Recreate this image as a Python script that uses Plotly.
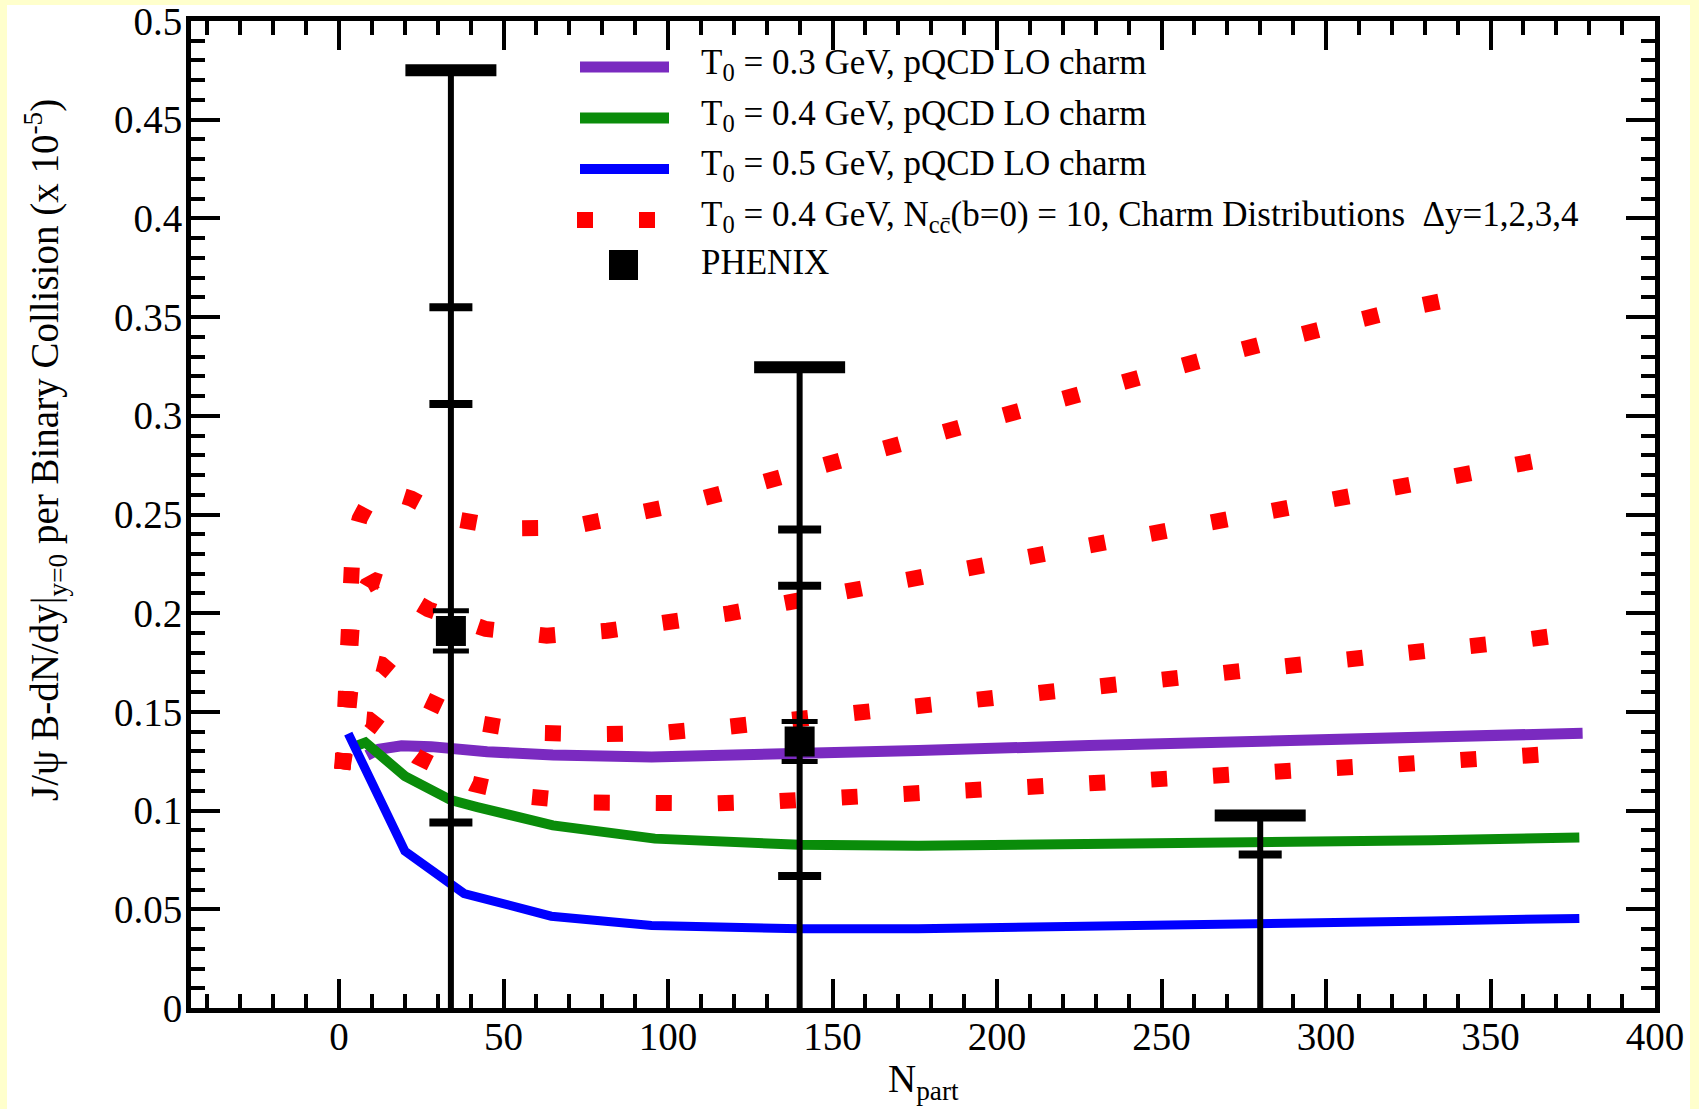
import plotly.graph_objects as go

# ---------------- data ----------------
# T0 = 0.3 GeV, pQCD LO charm
npart_t03 = [8.5, 12, 19, 28, 45, 65, 95, 136, 176, 228, 280, 332, 378]
jpsi_t03 = [0.128, 0.131, 0.1328, 0.1324, 0.1298, 0.1282, 0.1272, 0.1283, 0.1304, 0.133, 0.1355, 0.1375, 0.1392]

# T0 = 0.4 GeV, pQCD LO charm
npart_t04 = [4, 8, 20, 34, 42, 65, 96, 140, 176, 228, 280, 332, 377]
jpsi_t04 = [0.132, 0.1345, 0.1175, 0.1053, 0.1018, 0.0925, 0.0858, 0.0827, 0.0822, 0.0828, 0.0838, 0.085, 0.0864]

# T0 = 0.5 GeV, pQCD LO charm
npart_t05 = [2.8, 20, 38, 64.5, 95, 140, 176, 228, 280, 332, 377]
jpsi_t05 = [0.139, 0.0795, 0.0580, 0.0465, 0.0418, 0.0401, 0.0401, 0.0411, 0.0425, 0.0441, 0.0454]

# T0 = 0.4 GeV, Ncc(b=0)=10, charm distributions, dy = 1, 2, 3, 4
npart_dy1 = [1.0, 1.3, 1.8, 2.3, 3.0, 4.2, 6.3, 9.5, 15.4, 22, 32.7, 50.6, 69.2, 87.4, 105.7, 123.7,
             141.7, 159.4, 177.5, 195.4, 213.3, 231.2, 249.3, 267.4, 285.3, 302.9, 321.6, 342]
jpsi_dy1 = [0.121, 0.130, 0.157, 0.188, 0.215, 0.235, 0.248, 0.258, 0.2615, 0.258, 0.2485, 0.243, 0.2433,
            0.249, 0.256, 0.264, 0.2725, 0.2811, 0.2898, 0.2983, 0.3067, 0.3146, 0.3227, 0.3305, 0.3383,
            0.346, 0.3534, 0.3605]

npart_dy2 = [1.0, 1.4, 2.1, 3.0, 3.9, 6.0, 8.5, 11.2, 15, 20, 27.1, 44.6, 63.1, 81.5, 100.1, 118.6, 136.6,
             155.3, 173.8, 192.1, 210.3, 228.6, 247, 265.4, 283.6, 302, 320.6, 338.8, 357.1, 376]
jpsi_dy2 = [0.121, 0.135, 0.164, 0.183, 0.1945, 0.207, 0.214, 0.2165, 0.2145, 0.209, 0.202, 0.192, 0.1886,
            0.1911, 0.1948, 0.1999, 0.2055, 0.2113, 0.2173, 0.2235, 0.2294, 0.235, 0.2409, 0.2465, 0.2519,
            0.2573, 0.2625, 0.2682, 0.2741, 0.281]

npart_dy3 = [1.0, 1.5, 2.3, 3.5, 5.5, 9.2, 13, 18, 24.4, 41.1, 59.5, 78.1, 96.6, 115, 133.7, 152.2, 170.9,
             189.6, 208, 226.8, 245, 263.8, 282.6, 301.1, 319.8, 338.4, 356.9, 376]
jpsi_dy3 = [0.121, 0.132, 0.150, 0.162, 0.171, 0.1756, 0.174, 0.167, 0.1577, 0.1447, 0.1394, 0.1387,
            0.1392, 0.1419, 0.1452, 0.1481, 0.1512, 0.1545, 0.1582, 0.1616, 0.165, 0.1695, 0.1726, 0.1756,
            0.1785, 0.1819, 0.1857, 0.190]

npart_dy4 = [1.0, 1.5, 2.5, 4, 6, 9.2, 13, 18, 23.6, 40.5, 58, 76.8, 95.5, 114.2, 132.7, 151.4, 170.4,
             189.1, 207.3, 226, 245, 263.7, 282.1, 300.3, 319, 338, 356.2, 376]
jpsi_dy4 = [0.121, 0.128, 0.137, 0.143, 0.1465, 0.146, 0.141, 0.134, 0.1274, 0.1136, 0.107, 0.1041,
            0.1032, 0.1037, 0.1047, 0.1068, 0.1093, 0.111, 0.1122, 0.1136, 0.1155, 0.1181, 0.1196, 0.1213,
            0.1231, 0.1253, 0.1272, 0.1296]

# PHENIX data
phenix_npart = [34, 140, 280]
phenix_value = [0.191, 0.135, None]
phenix_stat = [0.0102, 0.0101, None]
phenix_upper_limit = [0.475, 0.3246, 0.0975]
phenix_cap_a = [0.355, 0.2424, 0.0778]
phenix_cap_b = [0.306, 0.2139, None]
phenix_cap_c = [0.094, 0.0669, None]

x_tickvals = [0, 50, 100, 150, 200, 250, 300, 350, 400]
x_ticktext = ["0", "50", "100", "150", "200", "250", "300", "350", "400"]
y_tickvals = [0, 0.05, 0.1, 0.15, 0.2, 0.25, 0.3, 0.35, 0.4, 0.45, 0.5]
y_ticktext = ["0", "0.05", "0.1", "0.15", "0.2", "0.25", "0.3", "0.35", "0.4", "0.45", "0.5"]

legend_labels = [
    "T<sub>0</sub> = 0.3 GeV, pQCD LO charm",
    "T<sub>0</sub> = 0.4 GeV, pQCD LO charm",
    "T<sub>0</sub> = 0.5 GeV, pQCD LO charm",
    "T<sub>0</sub> = 0.4 GeV, N<sub>cc\u0304</sub>(b=0) = 10, Charm Distributions \u00a0\u0394y=1,2,3,4",
    "PHENIX",
]

# ---------------- styles ----------------
PURPLE = "#7A2AC0"
GREEN = "#0A8C0A"
BLUE = "#0000FF"
RED = "#FF0000"
FONT = "Liberation Serif, Times New Roman, serif"
DOTS = "16px,46px"
LINE_EW = 1.4  # plotly's line-ew symbol is 1.4 x marker size long

fig = go.Figure()


def curve(x, y, color, width, dash="solid"):
    fig.add_trace(go.Scatter(x=x, y=y, mode="lines",
                             line=dict(color=color, width=width, dash=dash),
                             showlegend=False, hoverinfo="skip"))


curve(npart_t03, jpsi_t03, PURPLE, 11)
curve(npart_t04, jpsi_t04, GREEN, 10)
curve(npart_t05, jpsi_t05, BLUE, 9)
for xs, ys in [(npart_dy1, jpsi_dy1), (npart_dy2, jpsi_dy2), (npart_dy3, jpsi_dy3), (npart_dy4, jpsi_dy4)]:
    curve(xs, ys, RED, 16, DOTS)

# PHENIX vertical bars (from axis up to the upper limit)
vx, vy = [], []
for xi, hi in zip(phenix_npart, phenix_upper_limit):
    vx += [xi, xi, None]
    vy += [0, hi, None]
fig.add_trace(go.Scatter(x=vx, y=vy, mode="lines", line=dict(color="black", width=6),
                         showlegend=False, hoverinfo="skip"))

# upper-limit caps
fig.add_trace(go.Scatter(x=phenix_npart, y=phenix_upper_limit, mode="markers",
                         marker=dict(symbol="line-ew", size=91 / LINE_EW, line=dict(width=12, color="black")),
                         showlegend=False, hoverinfo="skip"))
# systematic caps
for caps in (phenix_cap_a, phenix_cap_b, phenix_cap_c):
    fig.add_trace(go.Scatter(x=phenix_npart, y=caps, mode="markers",
                             marker=dict(symbol="line-ew", size=43 / LINE_EW, line=dict(width=8, color="black")),
                             showlegend=False, hoverinfo="skip"))
# data points
fig.add_trace(go.Scatter(x=phenix_npart, y=phenix_value, mode="markers",
                         marker=dict(symbol="square", size=30, color="black"),
                         error_y=dict(type="data", array=phenix_stat, visible=True,
                                      color="black", thickness=5, width=18),
                         showlegend=False, hoverinfo="skip"))

# ---------------- layout ----------------
L, R, T, B = 191, 44, 21, 101
W, H = 1699, 1109
PW, PH = W - L - R, H - T - B


def px(xp):
    return (xp - L) / PW


def py(yp):
    return (H - B - yp) / PH


shapes = [
    dict(type="rect", xref="paper", yref="paper", x0=px(7), x1=px(1690), y0=py(1200), y1=py(5),
         fillcolor="white", line=dict(width=0), layer="below"),
]

legend_rows = [67, 118, 169, 220, 265]
legend_colors = [PURPLE, GREEN, BLUE]
for i, c in enumerate(legend_colors):
    shapes.append(dict(type="line", xref="paper", yref="paper", x0=px(580), x1=px(669),
                       y0=py(legend_rows[i]), y1=py(legend_rows[i]),
                       line=dict(color=c, width=11 if i < 2 else 10)))
shapes.append(dict(type="line", xref="paper", yref="paper", x0=px(577), x1=px(655),
                   y0=py(legend_rows[3]), y1=py(legend_rows[3]),
                   line=dict(color=RED, width=16, dash=DOTS)))
shapes.append(dict(type="rect", xref="paper", yref="paper", x0=px(609), x1=px(638),
                   y0=py(legend_rows[4] + 15), y1=py(legend_rows[4] - 15),
                   fillcolor="black", line=dict(width=0)))

annotations = []
for lbl, yr in zip(legend_labels, legend_rows):
    annotations.append(dict(text=lbl, xref="paper", yref="paper", x=px(699), y=py(yr - 3),
                            xanchor="left", yanchor="middle", showarrow=False,
                            font=dict(family=FONT, size=35, color="black")))

annotations.append(dict(text="J/\u03c8 B-dN/dy|<sub>y=0</sub> per Binary Collision (x 10<sup>-5</sup>)",
                        xref="paper", yref="paper", x=px(45), y=py(450), textangle=-90,
                        xanchor="center", yanchor="middle", showarrow=False,
                        font=dict(family=FONT, size=39, color="black")))
annotations.append(dict(text="N<sub>part</sub>", xref="paper", yref="paper", x=px(923), y=py(1055),
                        xanchor="center", yanchor="top", showarrow=False,
                        font=dict(family=FONT, size=39, color="black")))

axis_common = dict(showgrid=False, zeroline=False, showline=True, linewidth=5, linecolor="black",
                   mirror="allticks", ticks="inside", ticklen=29, tickwidth=4, tickcolor="black",
                   automargin=False, ticklabeloverflow="allow",
                   tickfont=dict(family=FONT, size=39, color="black"))

fig.update_layout(
    width=W, height=H,
    margin=dict(l=L, r=R, t=T, b=B, pad=0, autoexpand=False),
    paper_bgcolor="#FFFFCC", plot_bgcolor="rgba(0,0,0,0)",
    showlegend=False,
    xaxis=dict(range=[-45, 400], tickvals=x_tickvals, ticktext=x_ticktext, ticklabelstandoff=-10,
               minor=dict(dtick=10, tick0=0, ticks="inside", ticklen=14, tickwidth=4,
                          tickcolor="black", showgrid=False),
               **axis_common),
    yaxis=dict(range=[0, 0.5], tickvals=y_tickvals, ticktext=y_ticktext, ticklabelstandoff=-4,
               minor=dict(dtick=0.01, tick0=0, ticks="inside", ticklen=14, tickwidth=4,
                          tickcolor="black", showgrid=False),
               **axis_common),
    shapes=shapes,
    annotations=annotations,
)

fig.write_html("out.html")
